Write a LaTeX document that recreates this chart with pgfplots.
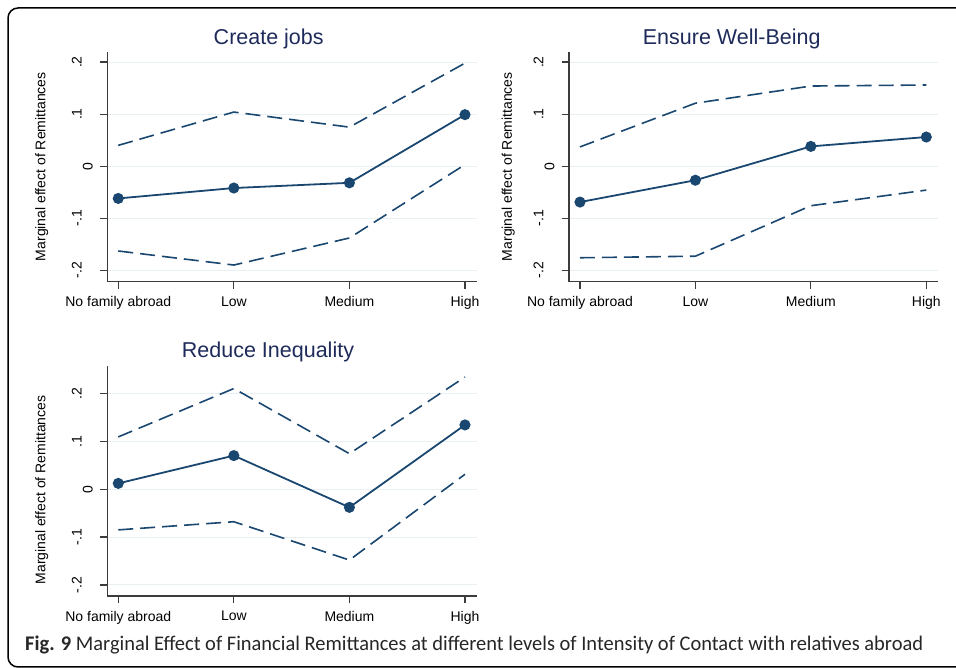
\documentclass[border=0pt]{standalone}
\usepackage{pgfplots}
\pgfplotsset{compat=1.18}
\usepackage{fontspec}
\setmainfont{Liberation Sans}
\newfontfamily\capfont{Carlito}

\definecolor{stnavy}{RGB}{26,71,111}
\definecolor{titlec}{RGB}{30,43,90}
\definecolor{gridc}{RGB}{232,240,242}
\definecolor{axc}{RGB}{60,60,60}

% Stata puts the rotated "0" closer to the axis than the other labels
\newcommand{\zerolab}{\raisebox{-11pt}[\height][0pt]{0}}

\pgfplotsset{
  me/.style={
    scale only axis, width=369.7pt, height=230pt,
    xmin=-0.095, xmax=3.104, ymin=-0.222, ymax=0.220,
    xtick={0,1,2,3}, xticklabels={No family abroad, Low, Medium, High},
    ytick={-0.2,-0.1,0,0.1,0.2}, yticklabels={-.2,-.1,\zerolab,.1,.2},
    axis x line*=bottom, axis y line*=left,
    axis line style={-, axc, line width=1.2pt},
    tick style={axc, line width=1.2pt},
    tick align=outside, major tick length=7.5pt,
    ymajorgrids, grid style={gridc, line width=1pt},
    ticklabel style={font=\fontsize{14}{16}\selectfont},
    yticklabel style={rotate=90, anchor=south, inner sep=0pt},
    yticklabel shift=18pt,
    xticklabel shift=4pt,
    ylabel={Marginal effect of Remittances},
    ylabel style={at={(axis description cs:-0.1774,0.5)}, anchor=center,
      font=\fontsize{14}{16}\selectfont},
    every axis title/.style={at={(axis description cs:0.4366,1.032)}, anchor=base,
      font=\fontsize{21.5}{24}\selectfont, color=titlec},
    clip=false,
  },
  est/.style={stnavy, line width=1.8pt, mark=*, mark size=4.6pt, mark options={solid}},
  ci/.style={stnavy, line width=1.6pt, dash pattern=on 15pt off 7pt, no marks},
}

\begin{document}
\begin{tikzpicture}[x=1pt,y=1pt]
\useasboundingbox (0,0) rectangle (956,668);

% frame round the figure
\draw[line width=1.5pt, rounded corners=10pt] (990,660) -- (8,660) -- (8,1) -- (990,1);

% Create jobs
\begin{axis}[me, at={(107.3pt,386.3pt)}, anchor=south west, title={Create jobs}]
\addplot[ci] coordinates {(0,0.040) (1,0.104) (2,0.075) (3,0.198)};
\addplot[ci] coordinates {(0,-0.163) (1,-0.190) (2,-0.138) (3,0.003)};
\addplot[est] coordinates {(0,-0.062) (1,-0.042) (2,-0.032) (3,0.099)};
\end{axis}

% Ensure Well-Being
\begin{axis}[me, at={(569pt,386.3pt)}, anchor=south west, width=369.3pt,
  title={Ensure Well-Being},
  title style={at={(axis description cs:0.4406,1.032)}},
  ylabel style={at={(axis description cs:-0.1644,0.5)}}]
\addplot[ci] coordinates {(0,0.037) (1,0.121) (2,0.154) (3,0.156)};
\addplot[ci] coordinates {(0,-0.176) (1,-0.173) (2,-0.076) (3,-0.046)};
\addplot[est] coordinates {(0,-0.069) (1,-0.027) (2,0.038) (3,0.056)};
\end{axis}

% Reduce Inequality
\begin{axis}[me, at={(107.3pt,72pt)}, anchor=south west,
  ymin=-0.223, ymax=0.257,
  title={Reduce Inequality},
  title style={at={(axis description cs:0.4347,1.036)}},
  ylabel style={at={(axis description cs:-0.1774,0.461)}}]
\addplot[ci] coordinates {(0,0.109) (1,0.210) (2,0.074) (3,0.234)};
\addplot[ci] coordinates {(0,-0.085) (1,-0.068) (2,-0.148) (3,0.031)};
\addplot[est] coordinates {(0,0.012) (1,0.070) (2,-0.038) (3,0.134)};
\end{axis}

\node[anchor=base west, inner sep=0pt, text=black!85] at (25,17.3)
  {\resizebox{898pt}{\height}{\capfont\fontsize{20.8}{24}\selectfont\textbf{Fig. 9} Marginal Effect of Financial Remittances at different levels of Intensity of Contact with relatives abroad}};
\end{tikzpicture}
\end{document}
